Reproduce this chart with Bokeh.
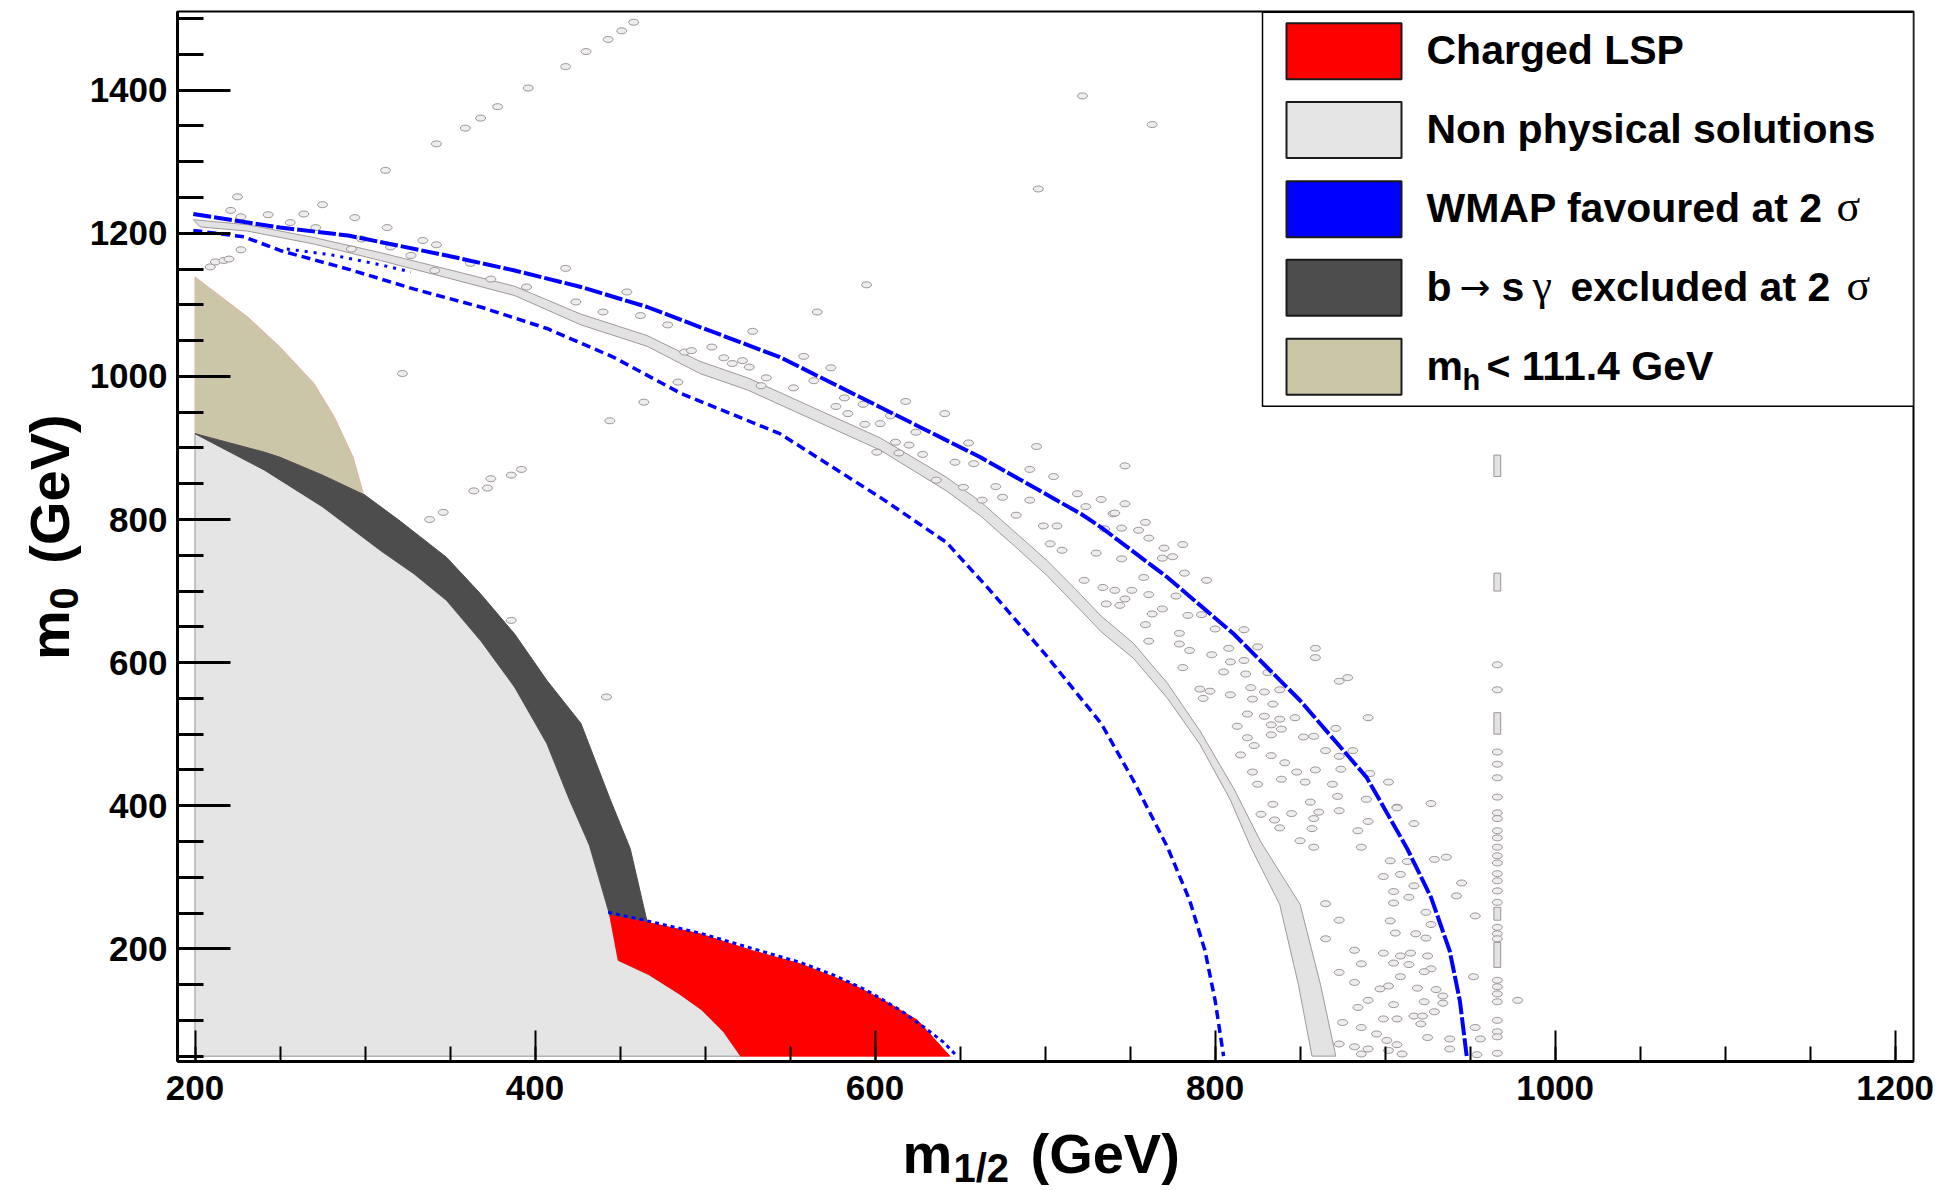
from math import pi
from bokeh.plotting import figure
from bokeh.models import Range1d, SingleIntervalTicker
from bokeh.layouts import row, column
from bokeh.core.properties import value
from bokeh.embed import file_html
from bokeh.resources import INLINE

# ------------------------------------------------------------------
# Values (m_1/2 , m_0 in GeV)
# ------------------------------------------------------------------
m12_min = 200          # left edge of the scanned grid
m0_min = 50            # bottom edge of the scanned grid

# m_h < 111.4 GeV boundary (right edge of tan region)
tan_edge_x = [200, 231, 250, 270, 282, 293, 299]
tan_edge_y = [1139, 1083, 1041, 990, 943, 887, 836]

# b -> s gamma excluded band: upper (outer) and lower (inner) edges
bsg_upper_x = [200, 241, 250, 275, 300, 320, 348, 368, 388, 407, 427, 444, 456, 466]
bsg_upper_y = [920, 894, 887, 862, 834, 799, 747, 696, 640, 575, 515, 410, 340, 237]
bsg_lower_x = [200, 241, 275, 309, 329, 348, 368, 388, 407, 420, 432, 444]
bsg_lower_y = [920, 869, 818, 757, 724, 687, 631, 566, 487, 410, 345, 247]

# charged LSP region: top edge and lower-left edge
lsp_top_x = [444, 466, 497, 527, 556, 586, 605, 625, 644]
lsp_top_y = [247, 237, 221, 198, 179, 151, 128, 100, 50]
lsp_low_x = [444, 449, 467, 485, 498, 511, 521]
lsp_low_y = [247, 184, 164, 137, 115, 84, 50]

# thin non-physical (focus-point) band: outer and inner edges
band_outer_x = [199, 231, 270, 309, 348, 388, 427, 466, 497, 525, 564, 603, 642, 662, 682, 701, 721, 733, 752, 772, 791, 811, 827, 850, 862, 871]
band_outer_y = [1219, 1212, 1194, 1173, 1150, 1126, 1087, 1057, 1021, 998, 956, 914, 859, 825, 783, 743, 695, 665, 627, 571, 505, 424, 349, 262, 150, 50]
band_inner_x = [203, 231, 270, 309, 348, 388, 427, 466, 497, 525, 564, 603, 642, 662, 682, 701, 721, 733, 752, 772, 791, 809, 821, 838, 849, 857]
band_inner_y = [1209, 1203, 1185, 1162, 1138, 1113, 1072, 1042, 1004, 981, 939, 897, 840, 805, 763, 722, 673, 643, 606, 550, 486, 408, 342, 262, 150, 50]

# WMAP favoured strips
wmap_outer_x = [199, 250, 290, 348, 388, 427, 466, 497, 544, 603, 662, 721, 733, 772, 811, 850, 889, 897, 913, 927, 938, 944, 948]
wmap_outer_y = [1227, 1208, 1197, 1169, 1148, 1125, 1097, 1069, 1027, 957, 887, 808, 789, 719, 640, 547, 440, 407, 340, 272, 197, 127, 50]
wmap_inner_x = [199, 229, 250, 290, 329, 368, 407, 446, 486, 544, 603, 642, 668, 700, 733, 752, 772, 785, 794, 800, 805]
wmap_inner_y = [1204, 1195, 1176, 1150, 1122, 1097, 1067, 1027, 976, 920, 831, 768, 700, 612, 515, 435, 342, 268, 198, 128, 50]
wmap_mid_x = [254, 280, 309, 327]
wmap_mid_y = [1178, 1170, 1156, 1146]
wmap_lsp_x = [443, 468, 497, 527, 556, 576, 595, 615, 629, 640, 647]
wmap_lsp_y = [251, 238, 222, 201, 181, 163, 142, 114, 90, 70, 53]

# isolated non-physical cells
stray_cells = [
    (225, 1251), (275, 1240), (221, 1232), (243, 1226), (264, 1227), (294, 1222), (313, 1208),
    (227, 1223), (256, 1215), (271, 1208), (298, 1192), (315, 1181), (334, 1190), (342, 1184),
    (292, 1178), (327, 1169), (341, 1148), (362, 1158), (374, 1136), (395, 1125), (418, 1151),
    (424, 1104), (440, 1090), (454, 1118), (462, 1085), (478, 1072), (488, 1034), (484, 992),
    (464, 964), (444, 938), (322, 1004),
    (364, 840), (372, 844), (374, 857), (386, 862), (392, 870), (338, 800), (346, 810),
    (209, 1153), (212, 1160), (217, 1162), (220, 1164), (227, 1177),
    (312, 1288), (342, 1325), (359, 1347), (368, 1361), (378, 1377), (396, 1403),
    (418, 1433), (430, 1454), (443, 1471), (451, 1483), (458, 1495),
    (722, 1392), (763, 1352), (696, 1262), (442, 552), (386, 659),
    (595, 1128), (566, 1090), (528, 1063), (504, 1041), (492, 1036), (511, 1026), (522, 1022),
    (516, 1018), (526, 1013), (558, 1028), (574, 1012), (536, 998), (533, 987), (564, 994),
    (552, 984), (582, 970), (618, 965), (577, 958), (593, 961), (609, 945), (641, 948),
    (584, 948), (603, 934), (594, 933), (624, 922), (612, 908), (620, 904), (601, 894),
    (614, 893), (628, 891), (655, 907), (647, 880), (658, 878), (695, 902), (691, 870),
    (705, 860), (636, 855), (671, 846), (652, 845), (663, 827), (675, 831), (691, 827),
    (719, 836), (733, 828), (747, 822), (683, 806), (699, 791), (707, 791), (735, 787),
    (745, 788), (740, 808), (724, 818), (703, 766), (710, 757), (730, 753), (745, 745),
    (759, 796), (761, 774), (770, 760), (781, 765), (769, 746), (758, 719), (782, 725),
    (723, 715), (734, 705), (751, 701), (761, 695), (736, 682), (747, 689), (769, 675),
    (747, 875), (741, 809), (755, 785), (775, 748), (795, 715), (741, 701), (777, 693),
    (744, 680), (763, 668), (784, 666), (792, 667), (759, 653), (779, 641), (800, 647),
    (817, 646), (761, 630), (779, 626), (808, 620), (825, 622), (859, 620), (859, 607),
    (785, 617), (798, 611), (809, 601), (817, 603), (781, 593), (805, 587), (818, 584),
    (831, 586), (873, 574), (878, 579), (791, 563), (797, 560), (821, 565), (829, 559),
    (838, 562), (793, 550), (809, 555), (822, 549), (834, 542), (819, 528), (829, 525),
    (838, 521), (847, 523), (890, 523), (813, 511), (833, 513), (839, 507), (871, 508),
    (819, 495), (833, 499), (852, 496), (858, 497), (823, 484), (815, 471), (833, 470),
    (865, 477), (873, 469), (881, 477), (822, 447), (841, 460), (848, 447), (859, 450),
    (891, 445), (874, 451), (825, 430), (839, 437), (853, 433), (869, 430), (902, 433),
    (927, 403), (834, 402), (856, 405), (872, 413), (889, 409), (827, 388), (845, 389),
    (861, 391), (873, 393), (835, 380), (858, 382), (890, 378), (917, 375), (907, 398),
    (838, 369), (857, 368), (884, 365), (850, 351), (858, 342), (886, 342),
    (907, 397), (903, 323), (913, 322), (929, 325), (936, 328), (899, 301), (909, 304),
    (917, 288), (905, 280), (945, 292), (914, 272), (942, 274), (905, 264), (924, 251),
    (953, 246), (903, 239), (927, 234), (906, 222), (918, 221), (924, 215), (899, 194),
    (909, 190), (915, 194), (925, 190), (927, 172), (923, 168), (914, 178), (905, 180),
    (909, 161), (952, 161), (902, 148), (919, 145), (930, 143), (934, 134), (905, 122),
    (923, 126), (934, 124), (929, 112), (917, 106), (922, 106), (907, 102), (921, 95),
    (938, 74), (953, 90), (956, 74), (925, 76), (907, 66), (902, 58), (938, 60), (954, 52),
    (978, 128), (865, 263), (873, 240), (865, 214), (882, 198), (886, 179), (873, 167),
    (882, 153), (897, 144), (890, 128), (884, 118), (875, 97), (899, 102), (886, 90),
    (895, 81), (901, 72), (873, 67), (882, 63), (890, 60), (886, 53), (910, 53),
]

# column of cells near m_1/2 ~ 966 GeV
column_x = 966
column_dot_y = [597, 562, 475, 458, 439, 412, 390, 382, 365, 355, 342, 330, 320, 305, 295,
                281, 265, 230, 221, 214, 156, 147, 137, 126, 100, 84, 77, 54]
column_cell_bottom = [860, 700, 500, 240, 174]
column_cell_top = [890, 725, 530, 258, 209]

legend_colors = ["#FF0000", "#E5E5E5", "#0000FF", "#4D4D4D", "#CCC6A9"]

# ------------------------------------------------------------------
# Layout (pixels of the 1943 x 1190 page)
# ------------------------------------------------------------------
W, H = 1943, 1190
LEFT_W = 86                 # strip holding the y title
MAIN_H = 1122               # main figure height; below it a strip for the x title
FL, FR, FT, FB = 177, 1913, 11, 1061
X_LO, X_HI = 189.7, 1210.8
Y_LO, Y_HI = 42.5, 1510.0
MID = 0.3465                # baseline -> em-box middle, in em


def dx(px):
    return X_LO + (px - FL) * (X_HI - X_LO) / (FR - FL)


def dy(py):
    return Y_LO + (FB - py) * (Y_HI - Y_LO) / (FB - FT)


p = figure(frame_width=FR - FL, frame_height=FB - FT,
           x_range=Range1d(X_LO, X_HI), y_range=Range1d(Y_LO, Y_HI),
           output_backend="svg", toolbar_location=None,
           min_border_left=FL - LEFT_W, min_border_right=W - FR,
           min_border_top=FT, min_border_bottom=MAIN_H - FB)
p.background_fill_color = "white"
p.border_fill_color = "white"
p.outline_line_color = "black"
p.outline_line_width = 2
p.xgrid.visible = False
p.ygrid.visible = False

for ax in (p.xaxis[0], p.yaxis[0]):
    ax.ticker = SingleIntervalTicker(interval=200, num_minor_ticks=4)
    ax.major_label_text_font = "Liberation Sans"
    ax.major_label_text_font_style = "bold"
    ax.major_label_text_font_size = "35px"
    ax.major_label_text_color = "black"
    ax.axis_line_color = "black"
    ax.axis_line_width = 3
    ax.major_tick_out = 0
    ax.minor_tick_out = 0
    ax.major_tick_line_color = "black"
    ax.minor_tick_line_color = "black"
p.xaxis.major_tick_in = 31
p.xaxis.minor_tick_in = 15
p.xaxis.major_tick_line_width = 2
p.xaxis.minor_tick_line_width = 2
p.xaxis.major_label_standoff = 14
p.yaxis.major_tick_in = 53
p.yaxis.minor_tick_in = 26
p.yaxis.major_tick_line_width = 3
p.yaxis.minor_tick_line_width = 3
p.yaxis.major_label_standoff = 10

# --- regions ---
nonphys_x = [m12_min] + bsg_lower_x + lsp_low_x[1:]
nonphys_y = [m0_min] + bsg_lower_y + lsp_low_y[1:]
p.patch(nonphys_x, nonphys_y, fill_color="#E5E5E5", line_color="#B2B2B2", line_width=1.5)

tan_x = tan_edge_x + [x for x in bsg_upper_x[::-1] if x <= 300]
tan_y = tan_edge_y + [y for x, y in zip(bsg_upper_x[::-1], bsg_upper_y[::-1]) if x <= 300]
p.patch(tan_x, tan_y, fill_color="#CCC6A9", line_color="#E6B0A6", line_width=1)

p.patch(bsg_upper_x + bsg_lower_x[::-1], bsg_upper_y + bsg_lower_y[::-1],
        fill_color="#4D4D4D", line_color="#4D4D4D", line_width=1)

p.patch(lsp_top_x + lsp_low_x[::-1], lsp_top_y + lsp_low_y[::-1],
        fill_color="#FF0000", line_color="#FF0000", line_width=1)

p.patch(band_outer_x + band_inner_x[::-1], band_outer_y + band_inner_y[::-1],
        fill_color="#E3E3E3", line_color="#A39898", line_width=1)

sx = [c[0] for c in stray_cells]
sy = [c[1] for c in stray_cells]
p.ellipse(x=sx, y=sy, width=10, height=6, width_units="screen", height_units="screen",
          fill_color="#EDEDED", line_color="#9E9494", line_width=1)
p.ellipse(x=[column_x] * len(column_dot_y), y=column_dot_y, width=10, height=6,
          width_units="screen", height_units="screen",
          fill_color="#EDEDED", line_color="#9E9494", line_width=1)
p.quad(left=[column_x - 2] * len(column_cell_bottom), right=[column_x + 2] * len(column_cell_bottom),
       bottom=column_cell_bottom, top=column_cell_top,
       fill_color="#E3E3E3", line_color="#9E9494", line_width=1)

# --- WMAP strips ---
p.line(wmap_outer_x, wmap_outer_y, line_color="#0000FF", line_width=4, line_dash="18 3")
p.line(wmap_inner_x, wmap_inner_y, line_color="#0000FF", line_width=3.5, line_dash="9 5")
p.line(wmap_mid_x, wmap_mid_y, line_color="#0000FF", line_width=3, line_dash="3 6")
p.line(wmap_lsp_x, wmap_lsp_y, line_color="#0000FF", line_width=3, line_dash="4 4")

# --- legend (drawn by hand, ROOT style) ---
p.quad(left=[dx(1262)], right=[dx(1913)], bottom=[dy(405.7)], top=[dy(11.7)],
       fill_color="white", line_color="black", line_width=1.5)
row_py = [50.7, 129.5, 208.7, 287.3, 366.3]
p.quad(left=[dx(1286)] * 5, right=[dx(1401)] * 5,
       bottom=[dy(c + 28) for c in row_py], top=[dy(c - 28) for c in row_py],
       fill_color=legend_colors, line_color="#1A1A1A", line_width=2)


def put_text(fig, x, y, s, size, font="Liberation Sans", style="bold", angle=0.0):
    fig.text(x=[x], y=[y], text=[s], text_font=value(font), text_font_style=style,
             text_font_size=value(f"{size}px"), text_color="black",
             text_align="left", text_baseline="middle", angle=angle)


def ltxt(px, base_py, s, size=41, **kw):
    # base_py: pixel row of the text baseline
    put_text(p, dx(px), dy(base_py - MID * size), s, size, **kw)


TX = 1426
ltxt(TX, row_py[0] + 13, "Charged LSP")
ltxt(TX, row_py[1] + 13, "Non physical solutions")
ltxt(TX, row_py[2] + 13, "WMAP favoured at 2")
ltxt(1836, row_py[2] + 13, "σ", size=44, font="Liberation Serif", style="normal")
ltxt(TX, row_py[3] + 13, "b")
ltxt(1459, row_py[3] + 13, "→", size=37, font="DejaVu Sans", style="normal")
ltxt(1501, row_py[3] + 13, "s")
ltxt(1532, row_py[3] + 13, "γ", size=44, font="Liberation Serif", style="normal")
ltxt(1570, row_py[3] + 13, "excluded at 2")
ltxt(1846, row_py[3] + 13, "σ", size=44, font="Liberation Serif", style="normal")
ltxt(TX, row_py[4] + 13, "m")
ltxt(1462, row_py[4] + 23, "h", size=29)
ltxt(1486, row_py[4] + 13, "< 111.4 GeV")

# --- strip with the y-axis title (left of the main figure) ---
left = figure(width=LEFT_W, height=MAIN_H, x_range=Range1d(0, LEFT_W), y_range=Range1d(0, MAIN_H),
              output_backend="svg", toolbar_location=None, min_border=0,
              x_axis_type=None, y_axis_type=None)
left.outline_line_color = None
left.xgrid.visible = False
left.ygrid.visible = False
# rotated text: baseline column at x, glyphs grow towards smaller x
put_text(left, 68 - MID * 56, MAIN_H - 693, "m", 56, angle=pi / 2)
put_text(left, 77 - MID * 40, MAIN_H - 639, "0", 40, angle=pi / 2)
put_text(left, 68 - MID * 56, MAIN_H - 590, "(GeV)", 56, angle=pi / 2)

# --- strip with the x-axis title (below everything, full page width) ---
BH = H - MAIN_H
bottom = figure(width=W, height=BH, x_range=Range1d(0, W), y_range=Range1d(0, BH),
                output_backend="svg", toolbar_location=None, min_border=0,
                x_axis_type=None, y_axis_type=None)
bottom.outline_line_color = None
bottom.xgrid.visible = False
bottom.ygrid.visible = False
put_text(bottom, 902, H - (1172 - MID * 56), "m", 56)
put_text(bottom, 953, H - (1181 - MID * 40), "1/2", 40)
put_text(bottom, 1030, H - (1172 - MID * 56), "(GeV)", 56)

layout = column(row(left, p), bottom)
open("out.html", "w").write(file_html(layout, INLINE))
